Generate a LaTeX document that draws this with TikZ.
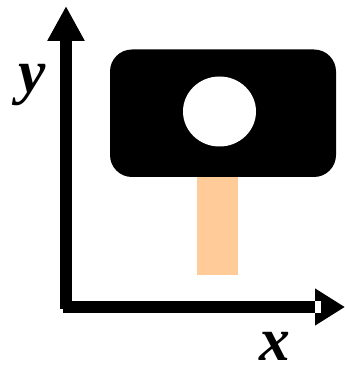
\documentclass[tikz,border=0pt]{standalone}
\usepackage{fontspec}
\setmainfont{Liberation Serif}
\usepackage{xcolor}
\usetikzlibrary{arrows.meta}
\definecolor{peach}{HTML}{FFCC99}
\tikzset{axislabel/.style={inner sep=0pt,font=\fontsize{35}{35}\selectfont\bfseries\itshape}}

\begin{document}
\begin{tikzpicture}
\useasboundingbox(0,0)rectangle(6.9,7.3);
\fill[peach](3.94,1.8)rectangle(4.76,3.76);
\fill[rounded corners=0.44cm](2.2,3.76)rectangle(6.72,6.31);
\fill[white](4.39,5.07)ellipse[x radius=0.73,y radius=0.7];
\draw[line width=0.24cm,-{Triangle[length=0.7cm,width=0.7cm]}](1.32,1.12)--(1.32,7.18);
\draw[line width=0.24cm,-{Triangle[length=0.6cm,width=0.7cm]}](1.26,1.16)--(6.9,1.16);
\fill[white](6.3,1.04)rectangle(6.42,1.28);
\node[axislabel](ylabel)at(0.65,5.6){y};
\node[axislabel](xlabel)at(5.5,0.38){x};
\end{tikzpicture}
\end{document}
